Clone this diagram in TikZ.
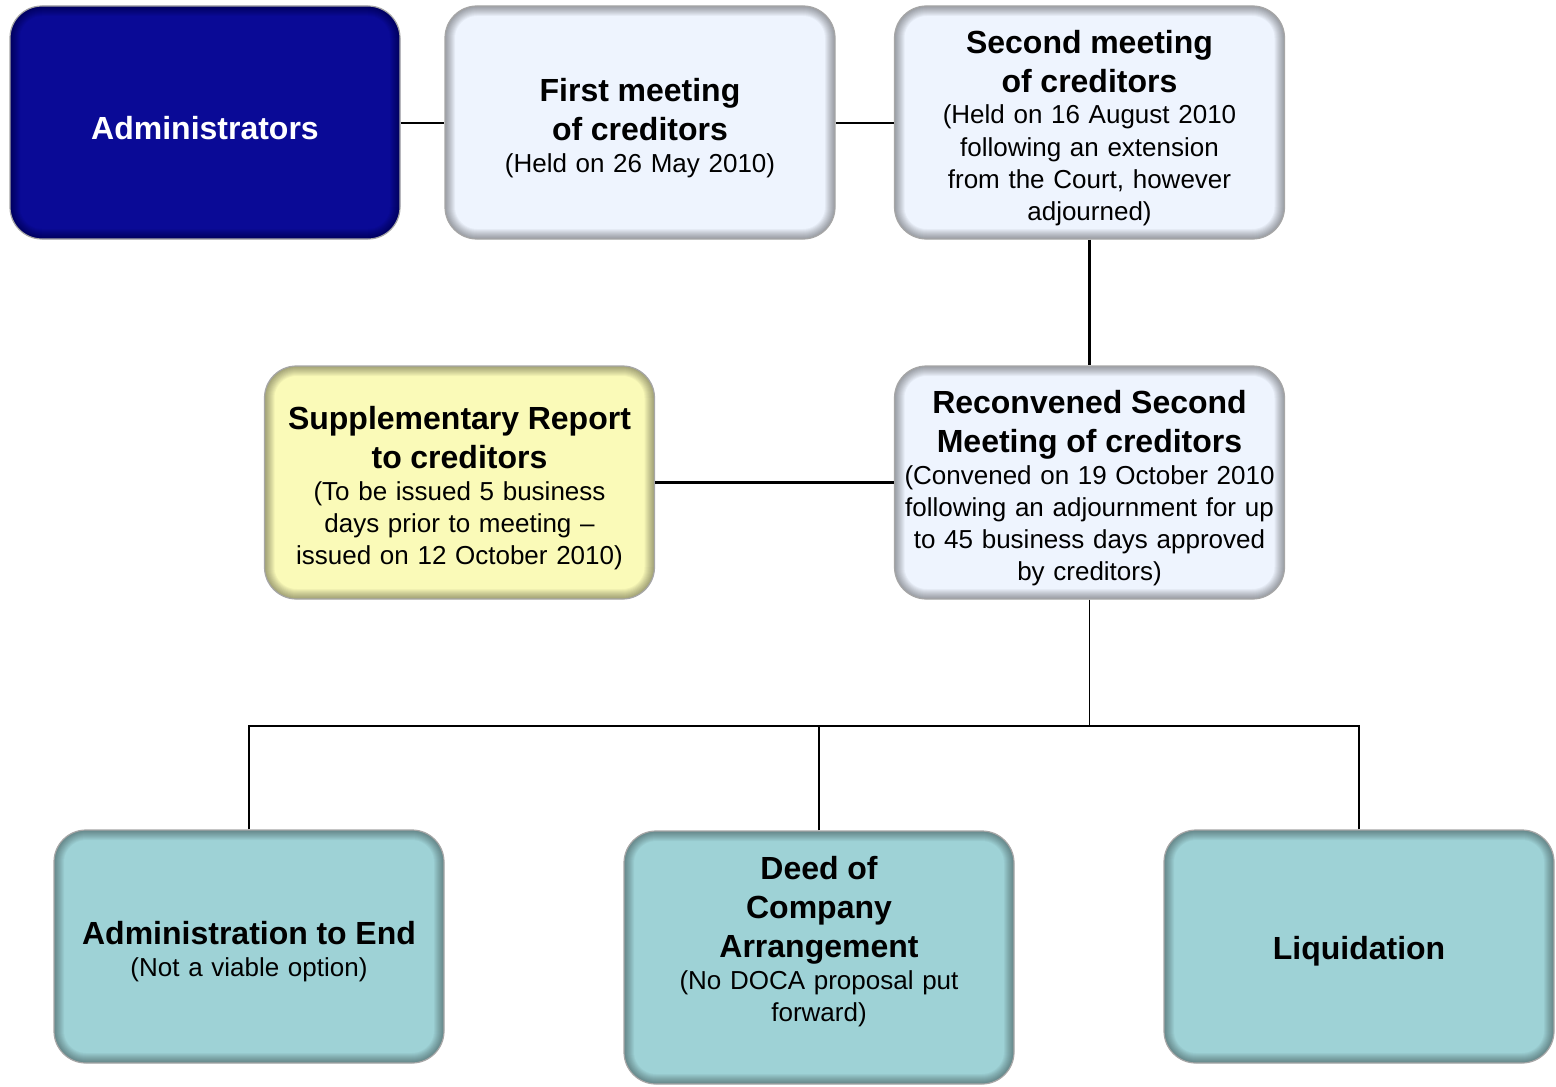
\documentclass[tikz,border=0pt]{standalone}
\usepackage{fontspec}
\setmainfont{Liberation Sans}
\definecolor{ADMnavy}{HTML}{0A0A96}
\definecolor{ADMpale}{HTML}{EEF4FE}
\definecolor{ADMcream}{HTML}{FAFAB8}
\definecolor{ADMteal}{HTML}{9ED2D6}
\newcommand{\boxhead}[1]{{\fontsize{16}{19.5}\selectfont\bfseries\rule{0pt}{16.7pt}#1\par}}
\usetikzlibrary{positioning}

\begin{document}
\begin{tikzpicture}[x=0.5pt, y=-0.5pt,
   stage/.style={rectangle, rounded corners=16pt, draw=gray!70, line width=0.6pt,
      minimum width=195pt, minimum height=116.5pt, text width=193pt, inner sep=0pt,
      align=center, font=\fontsize{13}{16}\selectfont,
      path picture={
         \foreach \w in {1,...,10}
            \draw[line width=\w pt, black, opacity=0.04, rounded corners=16pt]
               (path picture bounding box.south west) rectangle (path picture bounding box.north east);
      }},
   link/.style={line width=1pt},
   heavy/.style={line width=1.6pt},
   branch/.style={line width=0.8pt}]
   \useasboundingbox (0,0) rectangle (1556,1086);
   % Top row
   \node[stage, fill=ADMnavy, text=white] (admin) at (205,122.5) {\boxhead{Administrators}};
   \node[stage, fill=ADMpale] (first) at (640,122.5)
      {\boxhead{First meeting\\of creditors}(Held on 26 May 2010)};
   \node[stage, fill=ADMpale] (second) at (1089.5,122.5)
      {\boxhead{Second meeting\\of creditors}(Held on 16 August 2010\\following an extension\\from the Court, however\\adjourned)};
   % Middle row
   \node[stage, fill=ADMcream] (supp) at (459.5,482.5)
      {\boxhead{Supplementary Report\\to creditors}(To be issued 5 business\\days prior to meeting --\\issued on 12 October 2010)};
   \node[stage, fill=ADMpale] (recon) at (1089.5,482.5)
      {\boxhead{Reconvened Second\\Meeting of creditors}(Convened on 19 October 2010\\following an adjournment for up\\to 45 business days approved\\by creditors)};
   % Outcomes
   \node[stage, fill=ADMteal] (endadm) at (249,946.5)
      {\boxhead{Administration to End}(Not a viable option)};
   \node[stage, fill=ADMteal, minimum height=126.5pt] (doca) at (819,957.5)
      {\boxhead{Deed of\\Company\\Arrangement}(No DOCA proposal put\\forward)\par\rule{0pt}{20pt}};
   \node[stage, fill=ADMteal] (liq) at (1359,946.5) {\boxhead{Liquidation}};
   % Connectors
   \draw[link] (admin) -- (first);
   \draw[link] (first) -- (second);
   \draw[heavy] (second) -- (recon);
   \draw[heavy] (supp) -- (recon);
   \coordinate (bus) at (1089.5,726);
   \draw[branch] (recon.south) -- (bus);
   \draw[branch] (endadm.north) |- (bus);
   \draw[branch] (liq.north) |- (bus);
   \draw[branch] (doca.north) -- (doca.north |- bus);
\end{tikzpicture}
\end{document}
